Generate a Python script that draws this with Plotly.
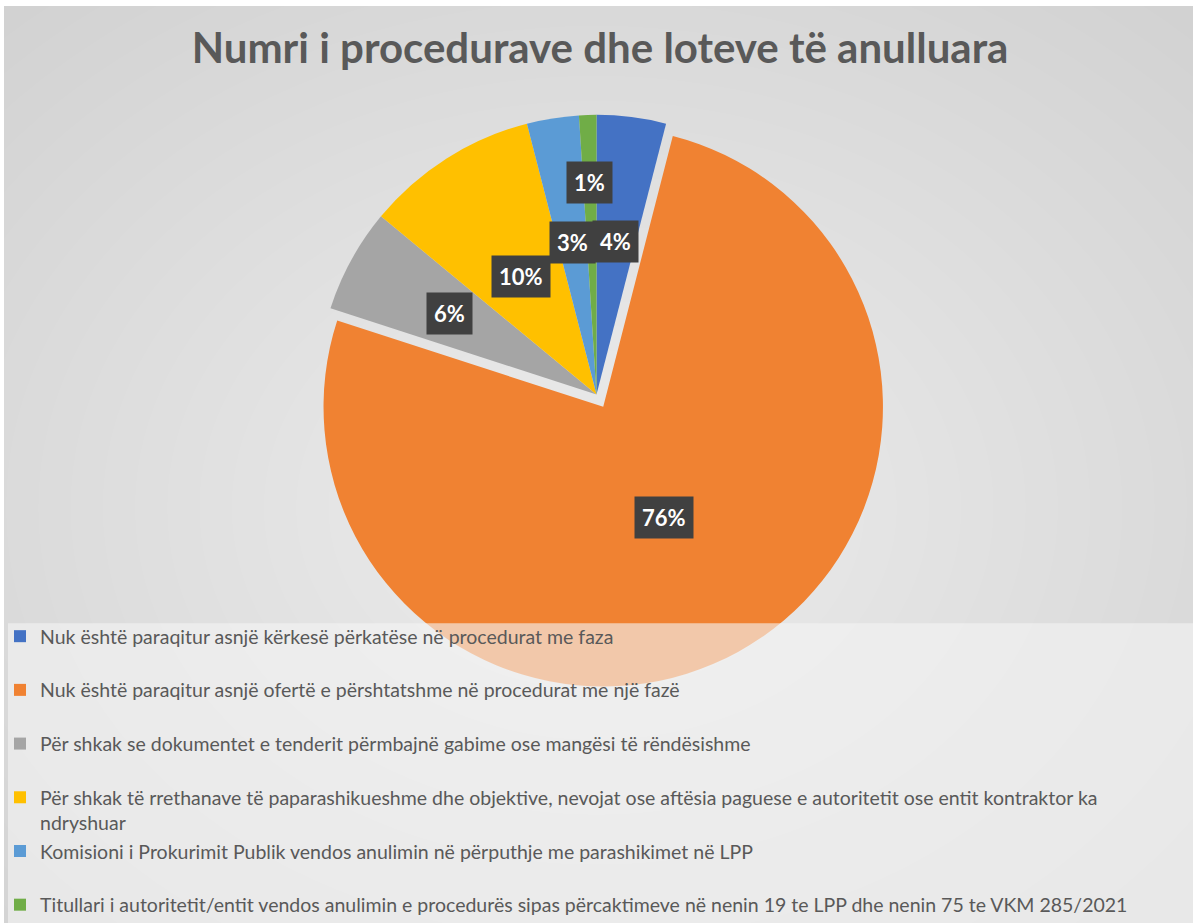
import math
import plotly.graph_objects as go

# ---- data ----
categories = [
    "Nuk është paraqitur asnjë kërkesë përkatëse në procedurat me faza",
    "Nuk është paraqitur asnjë ofertë e përshtatshme në procedurat me një fazë",
    "Për shkak se dokumentet e tenderit përmbajnë gabime ose mangësi të rëndësishme",
    "Për shkak të rrethanave të paparashikueshme dhe objektive, nevojat ose aftësia paguese e autoritetit ose entit kontraktor ka ndryshuar",
    "Komisioni i Prokurimit Publik vendos anulimin në përputhje me parashikimet në LPP",
    "Titullari i autoritetit/entit vendos anulimin e procedurës sipas përcaktimeve në nenin 19 te LPP dhe nenin 75 te VKM 285/2021",
]
values = [4, 76, 6, 10, 3, 1]  # percent shares
title_text = "Numri i procedurave dhe loteve të anulluara"

# ---- style ----
colors = ["#4472C4", "#F08232", "#A5A5A5", "#FFC000", "#5B9BD5", "#70AD47"]
pulls = [0, 0.05, 0, 0, 0, 0]
label_radius = [0.55, 0.45, 0.6, 0.5, 0.55, 0.76]

W, H = 1193, 924
dom_y = [0.2543, 0.8907]
dom_x = [0.0, 1.0]
legend_top_px = 618

# legend labels: wrap long item, pad items to give Excel-like spacing
legend_labels = []
for i, c in enumerate(categories):
    if i == 3:
        legend_labels.append(c.replace(" ndryshuar", "<br>ndryshuar"))
    elif i == len(categories) - 1:
        legend_labels.append(c)
    else:
        legend_labels.append(c + "<br> ")

fig = go.Figure()
fig.add_trace(go.Pie(
    labels=legend_labels,
    values=values,
    sort=False,
    direction="clockwise",
    rotation=0,
    pull=pulls,
    marker=dict(colors=colors, line=dict(width=0)),
    textinfo="none",
    hoverinfo="label+percent",
    domain=dict(x=dom_x, y=dom_y),
))

# gradient background (radial-like) via layered translucent ellipses
shapes = [dict(type="rect", xref="paper", yref="paper",
               x0=4 / W, x1=1, y0=0, y1=1 - 6 / H,
               fillcolor="#c9c9c9", line=dict(width=0), layer="below")]
n = 32
for k in range(n):
    rx = 0.9 - k * 0.027
    ry = 0.9 - k * 0.027
    shapes.append(dict(type="circle", xref="paper", yref="paper",
                       x0=0.5 - rx, x1=0.5 + rx, y0=0.45 - ry, y1=0.45 + ry,
                       fillcolor="rgba(255,255,255,0.04)", line=dict(width=0),
                       layer="below"))
# translucent band behind legend (spans the full chart width)
shapes.append(dict(type="rect", xref="paper", yref="paper",
                   x0=8 / W, x1=1, y0=0, y1=1 - (legend_top_px + 6) / H,
                   fillcolor="rgba(244,244,244,0.62)", line=dict(width=0),
                   layer="above"))

# data labels positioned from slice geometry
total = sum(values)
maxpull = max(pulls)
box_h = H * (dom_y[1] - dom_y[0])
box_w = W * (dom_x[1] - dom_x[0])
r = min(box_w, box_h) / (2 + 2 * maxpull)
cx = W * (dom_x[0] + dom_x[1]) / 2
cy = H * (1 - (dom_y[0] + dom_y[1]) / 2)
annotations = []
cum = 0
for i, v in enumerate(values):
    mid = (cum + v / 2) / total * 2 * math.pi
    cum += v
    rr = (label_radius[i] + pulls[i]) * r
    px = cx + rr * math.sin(mid)
    py = cy - rr * math.cos(mid)
    pct = round(v / total * 100)
    annotations.append(dict(
        x=px / W, y=1 - py / H, xref="paper", yref="paper",
        text=f"<b>{pct}%</b>", showarrow=False,
        font=dict(family="Lato", size=22, color="white"),
        bgcolor="#404040", borderpad=7,
        xanchor="center", yanchor="middle",
    ))

fig.update_layout(
    width=W, height=H, autosize=False,
    margin=dict(l=0, r=0, t=0, b=0),
    paper_bgcolor="white",
    plot_bgcolor="rgba(0,0,0,0)",
    title=dict(text=f"<b>{title_text}</b>", x=0.503, xanchor="center",
               y=1 - 48 / H, yanchor="middle",
               font=dict(family="Lato", size=42, color="#595959")),
    showlegend=True,
    legend=dict(x=0.0, y=1 - legend_top_px / H, xanchor="left", yanchor="top",
                orientation="v", valign="top",
                bgcolor="rgba(0,0,0,0)", borderwidth=0,
                font=dict(family="Lato", size=19.5, color="#595959"),
                itemclick=False, itemdoubleclick=False),
    shapes=shapes,
    annotations=annotations,
)

fig.write_html("out.html",
               config={"displayModeBar": False},
               post_script="document.body.style.margin='0px';")
